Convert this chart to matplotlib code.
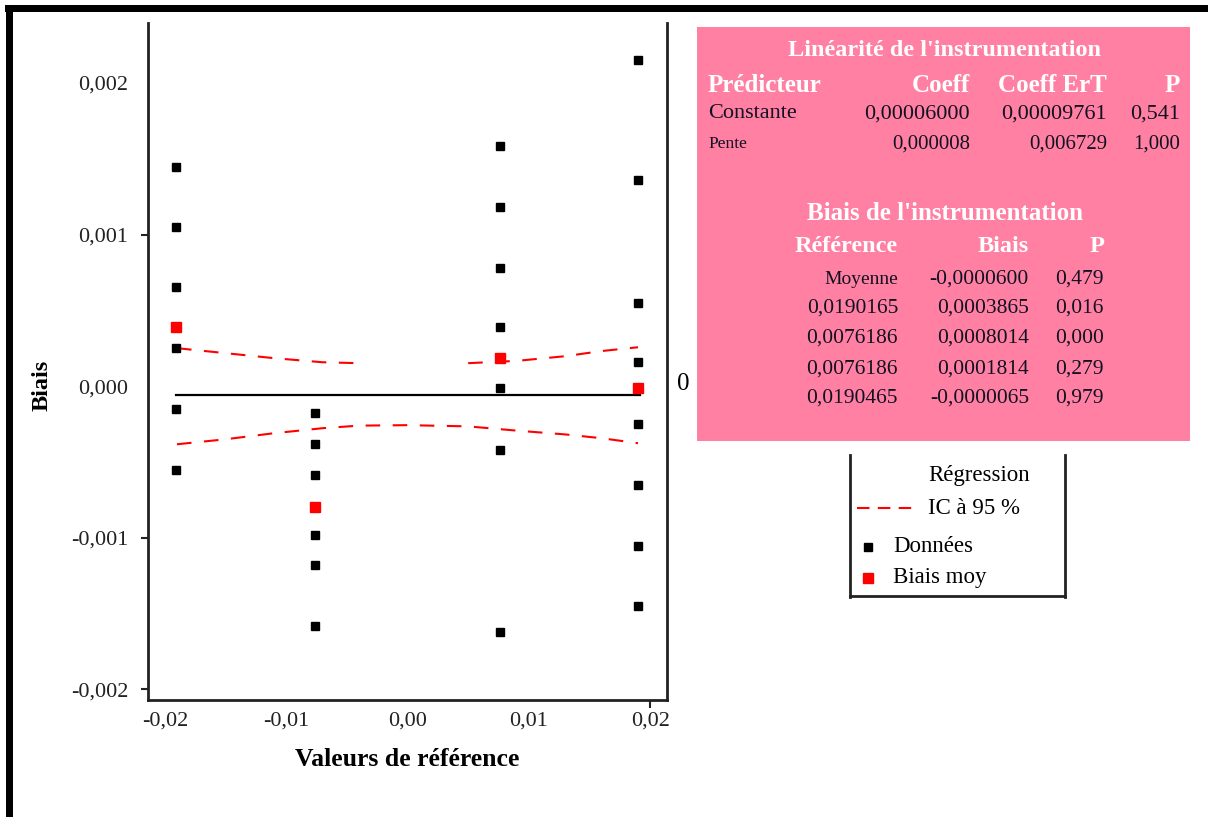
import numpy as np
import matplotlib
matplotlib.use("Agg")
import matplotlib.pyplot as plt
from matplotlib.patches import Rectangle
from matplotlib.lines import Line2D

plt.rcParams['font.family'] = ['Liberation Serif', 'DejaVu Serif']

# reference values (x positions of the columns)
ref_x = [-0.0190465, -0.0076186, 0.0076186, 0.0190165]

# individual bias readings per reference value
bias_a = [0.001447, 0.001050, 0.000653, 0.000251, -0.000152, -0.000554]
bias_b = [-0.000180, -0.000378, -0.000583, -0.000979, -0.001182, -0.001582]
bias_c = [0.001586, 0.001183, 0.000781, 0.000391, -0.000015, -0.000422, -0.001622]
bias_d = [0.002152, 0.001360, 0.000550, 0.000160, -0.000246, -0.000653, -0.001054, -0.001450]

# mean bias per reference value
bias_mean = [0.000389, -0.000797, 0.000183, -0.000009]

# regression line and 95% CI
reg_x = [-0.0191, 0.0192]
reg_y = [-0.00006, -0.00006]
ci_x = [-0.019, -0.015, -0.011, -0.007, -0.004, 0.0, 0.005, 0.009, 0.013, 0.016, 0.019]
ci_upper = [0.000251, 0.000218, 0.000185, 0.000158, 0.000152, np.nan,
            0.000152, 0.000167, 0.000198, 0.000232, 0.000257]
ci_lower = [-0.000383, -0.000350, -0.000310, -0.000277, -0.000260, -0.000257,
            -0.000265, -0.000293, -0.000318, -0.000343, -0.000376]

yticks = [-0.002, -0.001, 0.0, 0.001, 0.002]
ytick_labels = ['-0,002', '-0,001', '0,000', '0,001', '0,002']
xticks = [-0.02, -0.01, 0.0, 0.01, 0.02]
xtick_labels = ['-0,02', '-0,01', '0,00', '0,01', '0,02']

# table contents
lin_header = ['Prédicteur', 'Coeff', 'Coeff ErT', 'P']
lin_rows = [['Constante', '0,00006000', '0,00009761', '0,541'],
            ['Pente', '0,000008', '0,006729', '1,000']]
bias_header = ['Référence', 'Biais', 'P']
bias_rows = [['Moyenne', '-0,0000600', '0,479'],
             ['0,0190165', '0,0003865', '0,016'],
             ['0,0076186', '0,0008014', '0,000'],
             ['0,0076186', '0,0001814', '0,279'],
             ['0,0190465', '-0,0000065', '0,979']]

W, H = 1208, 817
fig = plt.figure(figsize=(W / 100, H / 100), dpi=100)


def fx(px):
    return px / W


def fy(py):
    return 1 - py / H


ax = fig.add_axes([fx(148), fy(700), fx(667) - fx(148), fy(23) - fy(700)])

for xv, col in zip(ref_x, [bias_a, bias_b, bias_c, bias_d]):
    ax.plot([xv] * len(col), col, 's', color='black', ms=6, zorder=3)
ax.plot(ref_x, bias_mean, 's', color='red', ms=6.5, zorder=4)
ax.plot(reg_x, reg_y, color='black', lw=1.6, zorder=2)
ax.plot(ci_x, ci_upper, color='red', lw=1.5, dashes=(7, 6))
ax.plot(ci_x, ci_lower, color='red', lw=1.5, dashes=(7, 6))

ax.set_xlim(-0.02139, 0.02139)
ax.set_ylim(-0.00207, 0.002396)
ax.set_yticks(yticks)
ax.set_yticklabels(ytick_labels)
ax.set_xticks(xticks)
ax.set_xticklabels(xtick_labels)
ax.tick_params(labelsize=16, direction='out', length=5, width=1.5, colors='#222222')
ax.tick_params(axis='y', pad=9)
ax.tick_params(axis='x', length=0, pad=8)
ax.xaxis.get_major_ticks()[-1].tick1line.set_markersize(6)
for i in (2, 4):
    ax.yaxis.get_major_ticks()[i].tick1line.set_visible(False)
ax.spines['top'].set_visible(False)
for s in ('left', 'right', 'bottom'):
    ax.spines[s].set_linewidth(2)
    ax.spines[s].set_color('#222222')

fig.text(fx(42), fy(385), 'Biais', rotation=90, fontsize=17.5, fontweight='bold',
         ha='center', va='center')
fig.text(fx(407), fy(760), 'Valeurs de référence', fontsize=18.5, fontweight='bold',
         ha='center', va='center')
fig.text(fx(683), fy(384), '0', fontsize=18, ha='center', va='center')

# page frame (top and left)
fig.add_artist(Rectangle((fx(5), fy(12)), 1, fy(5) - fy(12), transform=fig.transFigure,
                         color='black', lw=0))
fig.add_artist(Rectangle((fx(6), 0), fx(13) - fx(6), fy(5), transform=fig.transFigure,
                         color='black', lw=0))

# pink summary box
pink = '#FF80A3'
fig.add_artist(Rectangle((fx(697), fy(441)), fx(1190) - fx(697), fy(27) - fy(441),
                         transform=fig.transFigure, color=pink, lw=0))

fig.text(fx(945), fy(50), "Linéarité de l'instrumentation", color='white', fontsize=17.5,
         fontweight='bold', ha='center', va='center')
lin_cols = [(708, 'left'), (970, 'right'), (1107, 'right'), (1180, 'right')]
for (px, ha), t in zip(lin_cols, lin_header):
    fig.text(fx(px), fy(85), t, color='white', fontsize=18, fontweight='bold',
             ha=ha, va='center')
for row, py, fs in zip(lin_rows, [114, 144], [16, 15]):
    for (px, ha), t in zip(lin_cols, row):
        size = 12.5 if t == 'Pente' else fs
        fig.text(fx(px), fy(py), t, color='#111122', fontsize=size, ha=ha, va='center')

fig.text(fx(945), fy(213), "Biais de l'instrumentation", color='white', fontsize=18,
         fontweight='bold', ha='center', va='center')
bias_cols = [898, 1029, 1104]
for px, t in zip(bias_cols, bias_header):
    fig.text(fx(px), fy(247), t, color='white', fontsize=17.5, fontweight='bold',
             ha='right', va='center')
for row, py in zip(bias_rows, [279, 308, 338, 369, 398]):
    for px, t in zip(bias_cols, row):
        fs = 14 if t == 'Moyenne' else 15.5
        fig.text(fx(px), fy(py), t, color='#111122', fontsize=fs, ha='right', va='center')

# legend box
for (x0, y0, x1, y1) in [(850, 455, 850, 597), (1065, 455, 1065, 597), (850, 596, 1065, 596)]:
    fig.add_artist(Line2D([fx(x0), fx(x1)], [fy(y0), fy(y1)], transform=fig.transFigure,
                          color='#222222', lw=2))
fig.text(fx(928), fy(476), 'Régression', fontsize=16.5, ha='left', va='center')
fig.text(fx(928), fy(508), 'IC à 95 %', fontsize=16.5, ha='left', va='center')
fig.add_artist(Line2D([fx(857), fx(915)], [fy(508), fy(508)], transform=fig.transFigure,
                      color='red', lw=1.5, dashes=(6, 4)))
fig.add_artist(Line2D([fx(868)], [fy(547)], transform=fig.transFigure, marker='s',
                      color='black', ms=6, ls='none'))
fig.text(fx(893), fy(547), 'Données', fontsize=16.5, ha='left', va='center')
fig.add_artist(Line2D([fx(868)], [fy(578)], transform=fig.transFigure, marker='s',
                      color='red', ms=6.5, ls='none'))
fig.text(fx(893), fy(578), 'Biais moy', fontsize=16.5, ha='left', va='center')

fig.savefig('out.png', dpi=100)
